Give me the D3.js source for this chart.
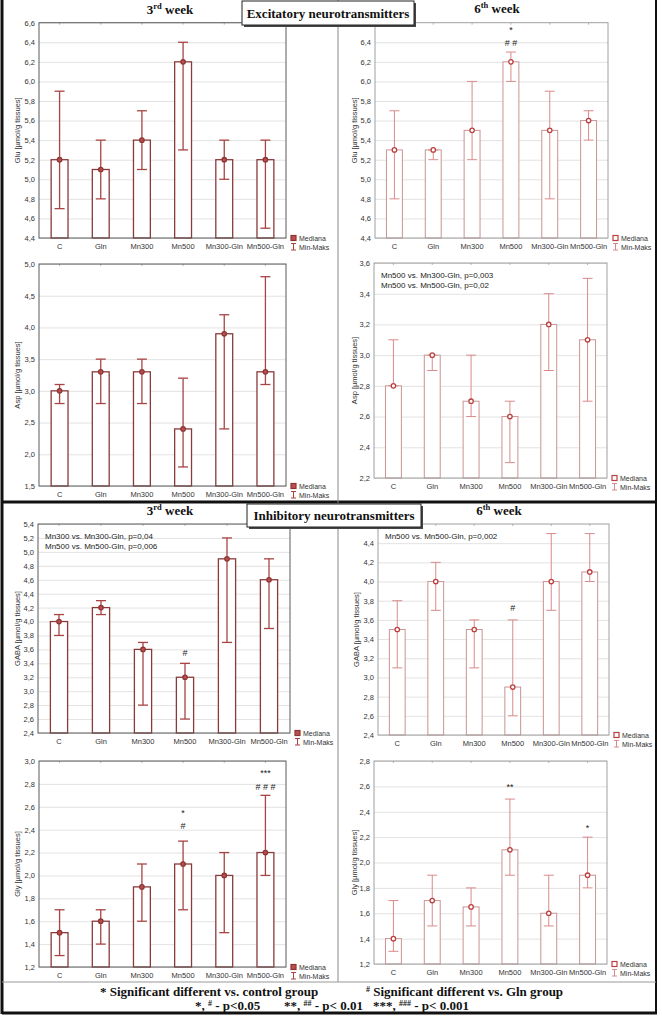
<!DOCTYPE html>
<html>
<head>
<meta charset="utf-8">
<script src="https://cdn.jsdelivr.net/npm/d3@7"></script>
<style>
  body { margin: 0; background: #fff; }
  svg { display: block; }
  .tick text { font-family: "Liberation Sans", Arial, sans-serif; font-size: 7.5px; fill: #333; }
</style>
</head>
<body>
<svg id="chart" width="662" height="1016"></svg>
<script>
// groups on the x axis
const groups = ["C", "Gln", "Mn300", "Mn500", "Mn300-Gln", "Mn500-Gln"]

// Glu [umol/g tissues]
const gluW3Median = [5.2, 5.1, 5.4, 6.2, 5.2, 5.2]
const gluW3Min    = [4.7, 4.8, 5.1, 5.3, 5.0, 4.5]
const gluW3Max    = [5.9, 5.4, 5.7, 6.4, 5.4, 5.4]
const gluW6Median = [5.3, 5.3, 5.5, 6.2, 5.5, 5.6]
const gluW6Min    = [4.8, 5.2, 5.2, 6.0, 4.8, 5.4]
const gluW6Max    = [5.7, 5.3, 6.0, 6.3, 5.9, 5.7]

// Asp
const aspW3Median = [3.0, 3.3, 3.3, 2.4, 3.9, 3.3]
const aspW3Min    = [2.8, 2.8, 2.8, 1.8, 2.4, 3.1]
const aspW3Max    = [3.1, 3.5, 3.5, 3.2, 4.2, 4.8]
const aspW6Median = [2.8, 3.0, 2.7, 2.6, 3.2, 3.1]
const aspW6Min    = [2.8, 2.9, 2.6, 2.3, 2.9, 2.7]
const aspW6Max    = [3.1, 3.0, 3.0, 2.7, 3.4, 3.5]

// GABA
const gabaW3Median = [4.0, 4.2, 3.6, 3.2, 4.9, 4.6]
const gabaW3Min    = [3.8, 4.1, 2.8, 2.6, 3.7, 3.9]
const gabaW3Max    = [4.1, 4.3, 3.7, 3.4, 5.2, 4.9]
const gabaW6Median = [3.5, 4.0, 3.5, 2.9, 4.0, 4.1]
const gabaW6Min    = [3.1, 3.7, 3.1, 2.6, 3.7, 4.0]
const gabaW6Max    = [3.8, 4.2, 3.6, 3.6, 4.5, 4.5]

// Gly
const glyW3Median = [1.5, 1.6, 1.9, 2.1, 2.0, 2.2]
const glyW3Min    = [1.3, 1.4, 1.6, 1.7, 1.5, 2.0]
const glyW3Max    = [1.7, 1.7, 2.1, 2.3, 2.2, 2.7]
const glyW6Median = [1.4, 1.7, 1.65, 2.1, 1.6, 1.9]
const glyW6Min    = [1.3, 1.5, 1.5, 1.9, 1.5, 1.8]
const glyW6Max    = [1.7, 1.9, 1.8, 2.5, 1.9, 2.2]

// y tick labels
const gluTicksW3  = [4.4, 4.6, 4.8, 5.0, 5.2, 5.4, 5.6, 5.8, 6.0, 6.2, 6.4, 6.6]
const gluTicksW6  = [4.4, 4.6, 4.8, 5.0, 5.2, 5.4, 5.6, 5.8, 6.0, 6.2, 6.4]
const aspTicksW3  = [1.5, 2.0, 2.5, 3.0, 3.5, 4.0, 4.5, 5.0]
const aspTicksW6  = [2.2, 2.4, 2.6, 2.8, 3.0, 3.2, 3.4, 3.6]
const gabaTicksW3 = [2.4, 2.6, 2.8, 3.0, 3.2, 3.4, 3.6, 3.8, 4.0, 4.2, 4.4, 4.6, 4.8, 5.0, 5.2, 5.4]
const gabaTicksW6 = [2.4, 2.6, 2.8, 3.0, 3.2, 3.4, 3.6, 3.8, 4.0, 4.2, 4.4]
const glyTicksW3  = [1.2, 1.4, 1.6, 1.8, 2.0, 2.2, 2.4, 2.6, 2.8, 3.0]
const glyTicksW6  = [1.2, 1.4, 1.6, 1.8, 2.0, 2.2, 2.4, 2.6, 2.8]

// significance marks: [group, value, text]
const gluW6Marks  = [["Mn500", 6.525, "*"], ["Mn500", 6.39, "# #"]]
const gabaW3Marks = [["Mn500", 3.55, "#"]]
const gabaW6Marks = [["Mn500", 3.72, "#"]]
const glyW3Marks  = [["Mn500", 2.55, "*"], ["Mn500", 2.43, "#"], ["Mn500-Gln", 2.895, "***"], ["Mn500-Gln", 2.77, "# # #"]]
const glyW6Marks  = [["Mn500", 2.595, "**"], ["Mn500-Gln", 2.27, "*"]]

// comparison notes
const aspW6Notes  = ["Mn500 vs. Mn300-Gln, p=0,003", "Mn500 vs. Mn500-Gln, p=0,02"]
const gabaW3Notes = ["Mn300 vs. Mn300-Gln, p=0,04", "Mn500 vs. Mn500-Gln, p=0,006"]
const gabaW6Notes = ["Mn500 vs. Mn500-Gln, p=0,002"]

const styles = {
    w3: { frame: "#5a5a5a", bar: "#8a3a3a", err: "#a84444", dot: "#8e3434", dotFill: "#b85050", barW: 1.3, errW: 1.3 },
    w6: { frame: "#a0a0a0", bar: "#c89494", err: "#d98a8a", dot: "#bb4040", dotFill: "#fff", barW: 1, errW: 1 }
}

const panels = [
    { box: [39, 286, 22.7, 238], domain: [4.4, 6.6], ticks: gluTicksW3, label: "Glu [µmol/g tissues]", lx: 17,
      median: gluW3Median, min: gluW3Min, max: gluW3Max, style: styles.w3, marks: [], notes: [] },
    { box: [375, 608, 22.7, 238], domain: [4.4, 6.6], ticks: gluTicksW6, label: "Glu [µmol/g tissues]", lx: 354,
      median: gluW6Median, min: gluW6Min, max: gluW6Max, style: styles.w6, marks: gluW6Marks, notes: [] },
    { box: [39, 286, 264, 486], domain: [1.5, 5.0], ticks: aspTicksW3, label: "Asp [µmol/g tissues]", lx: 17,
      median: aspW3Median, min: aspW3Min, max: aspW3Max, style: styles.w3, marks: [], notes: [] },
    { box: [374, 607, 263, 478], domain: [2.2, 3.6], ticks: aspTicksW6, label: "Asp [µmol/g tissues]", lx: 354,
      median: aspW6Median, min: aspW6Min, max: aspW6Max, style: styles.w6, marks: [], notes: aspW6Notes },
    { box: [38, 290, 524, 733], domain: [2.4, 5.4], ticks: gabaTicksW3, label: "GABA [µmol/g tissues]", lx: 17,
      median: gabaW3Median, min: gabaW3Min, max: gabaW3Max, style: styles.w3, marks: gabaW3Marks, notes: gabaW3Notes },
    { box: [378, 609, 524, 735], domain: [2.4, 4.6], ticks: gabaTicksW6, label: "GABA [µmol/g tissues]", lx: 356,
      median: gabaW6Median, min: gabaW6Min, max: gabaW6Max, style: styles.w6, marks: gabaW6Marks, notes: gabaW6Notes },
    { box: [39, 286, 761, 967], domain: [1.2, 3.0], ticks: glyTicksW3, label: "Gly [µmol/g tissues]", lx: 17,
      median: glyW3Median, min: glyW3Min, max: glyW3Max, style: styles.w3, marks: glyW3Marks, notes: [] },
    { box: [374, 607, 761, 964], domain: [1.2, 2.8], ticks: glyTicksW6, label: "Gly [µmol/g tissues]", lx: 354,
      median: glyW6Median, min: glyW6Min, max: glyW6Max, style: styles.w6, marks: glyW6Marks, notes: [] }
]

const fmt = d3.formatLocale({ decimal: ",", thousands: ".", grouping: [3], currency: ["", ""] }).format(".1f")
const sans = "'Liberation Sans', Arial, sans-serif"
const serif = "'Liberation Serif', 'Times New Roman', serif"

function drawPanel(svg, p) {
    const [x0, x1, y0, y1] = p.box
    const s = p.style
    const g = svg.append("g")

    const x = d3.scaleBand().domain(groups).range([x0, x1]).paddingInner(0.59).paddingOuter(0.295)
    const y = d3.scaleLinear().domain(p.domain).range([y1, y0])
    const cx = d => x(d) + x.bandwidth() / 2

    // grid
    g.append("g")
        .attr("transform", "translate(" + x0 + ",0)")
        .call(d3.axisLeft(y).tickValues(p.ticks).tickSize(-(x1 - x0)).tickFormat(""))
        .call(a => a.select(".domain").remove())
        .selectAll("line").attr("stroke", "#e2e2e2")

    // y labels
    g.append("g")
        .attr("transform", "translate(" + x0 + ",0)")
        .call(d3.axisLeft(y).tickValues(p.ticks).tickSize(0).tickPadding(4).tickFormat(fmt))
        .call(a => a.select(".domain").remove())

    // x labels
    g.append("g")
        .attr("transform", "translate(0," + y1 + ")")
        .call(d3.axisBottom(x).tickSize(0).tickPadding(6))
        .call(a => a.select(".domain").remove())

    // top ticks
    g.selectAll(".topTick").data(groups).join("line")
        .attr("x1", cx).attr("x2", cx).attr("y1", y0).attr("y2", y0 + 2)
        .attr("stroke", "#888").attr("stroke-width", 0.6)

    const rows = groups.map((d, i) => ({ g: d, med: p.median[i], lo: p.min[i], hi: p.max[i] }))

    g.selectAll(".bar").data(rows).join("rect")
        .attr("x", d => x(d.g))
        .attr("width", x.bandwidth())
        .attr("y", d => y(d.med))
        .attr("height", d => y(p.domain[0]) - y(d.med))
        .attr("fill", "#fff")
        .attr("stroke", s.bar)
        .attr("stroke-width", s.barW)

    // frame
    g.append("rect")
        .attr("x", x0).attr("y", y0).attr("width", x1 - x0).attr("height", y1 - y0)
        .attr("fill", "none").attr("stroke", s.frame).attr("stroke-width", 1)

    const err = g.selectAll(".err").data(rows).join("g").attr("stroke", s.err).attr("stroke-width", s.errW)
    err.append("line")
        .attr("x1", d => cx(d.g)).attr("x2", d => cx(d.g))
        .attr("y1", d => y(d.lo)).attr("y2", d => y(d.hi))
    err.append("line")
        .attr("x1", d => cx(d.g) - 5).attr("x2", d => cx(d.g) + 5)
        .attr("y1", d => y(d.lo)).attr("y2", d => y(d.lo))
    err.append("line")
        .attr("x1", d => cx(d.g) - 5).attr("x2", d => cx(d.g) + 5)
        .attr("y1", d => y(d.hi)).attr("y2", d => y(d.hi))

    g.selectAll(".med").data(rows).join("circle")
        .attr("cx", d => cx(d.g)).attr("cy", d => y(d.med)).attr("r", 2.2)
        .attr("fill", s.dotFill).attr("stroke", s.dot).attr("stroke-width", 1.3)

    // significance marks
    g.selectAll(".mark").data(p.marks).join("text")
        .attr("x", d => cx(d[0])).attr("y", d => y(d[1]))
        .attr("text-anchor", "middle").attr("dominant-baseline", "central")
        .attr("font-family", sans).attr("font-size", 9).attr("fill", "#222")
        .text(d => d[2])

    // notes
    g.selectAll(".note").data(p.notes).join("text")
        .attr("x", x0 + 7).attr("y", (d, i) => y0 + 15 + i * 9.5)
        .attr("font-family", sans).attr("font-size", 8).attr("fill", "#222")
        .text(d => d)

    // y title
    g.append("text")
        .attr("transform", "translate(" + p.lx + "," + (y0 + y1) / 2 + ") rotate(-90)")
        .attr("text-anchor", "middle").attr("dominant-baseline", "central")
        .attr("font-family", sans).attr("font-size", 7.5).attr("fill", "#333")
        .text(p.label)

    // legend
    const lg = g.append("g").attr("transform", "translate(" + (x1 + 5) + "," + y1 + ")")
    lg.append("rect").attr("x", 0).attr("y", -2.5).attr("width", 5).attr("height", 5)
        .attr("fill", s.dotFill).attr("stroke", s.dot).attr("stroke-width", 1.2)
    lg.append("text").attr("x", 8).attr("y", 0).attr("dominant-baseline", "central")
        .attr("font-family", sans).attr("font-size", 7).attr("fill", "#333").text("Mediana")
    const eg = lg.append("g").attr("stroke", s.err).attr("stroke-width", 1)
    eg.append("line").attr("x1", 2.5).attr("x2", 2.5).attr("y1", 5.5).attr("y2", 12)
    eg.append("line").attr("x1", 0).attr("x2", 5).attr("y1", 5.5).attr("y2", 5.5)
    eg.append("line").attr("x1", 0).attr("x2", 5).attr("y1", 12).attr("y2", 12)
    lg.append("text").attr("x", 8).attr("y", 9).attr("dominant-baseline", "central")
        .attr("font-family", sans).attr("font-size", 7).attr("fill", "#333").text("Min-Maks")
}

function weekTitle(svg, cx, yb, num, sup) {
    const t = svg.append("text").attr("x", cx).attr("y", yb).attr("text-anchor", "middle")
        .attr("font-family", serif).attr("font-weight", "bold").attr("font-size", 13).attr("fill", "#111")
    t.append("tspan").text(num)
    t.append("tspan").attr("dy", -5).attr("font-size", 8.5).text(sup)
    t.append("tspan").attr("dy", 5).text(" week")
}

function titleBox(svg, x0, x1, y0, y1, label) {
    svg.append("rect").attr("x", x0 + 2).attr("y", y0 + 2).attr("width", x1 - x0).attr("height", y1 - y0).attr("fill", "#444")
    svg.append("rect").attr("x", x0).attr("y", y0).attr("width", x1 - x0).attr("height", y1 - y0)
        .attr("fill", "#fff").attr("stroke", "#222").attr("stroke-width", 1)
    svg.append("text").attr("x", (x0 + x1) / 2).attr("y", (y0 + y1) / 2 + 4.5).attr("text-anchor", "middle")
        .attr("font-family", serif).attr("font-weight", "bold").attr("font-size", 13).attr("fill", "#111")
        .text(label)
}

const svg = d3.select("#chart")

// frame lines
svg.append("line").attr("x1", 2).attr("x2", 2).attr("y1", 0).attr("y2", 1014).attr("stroke", "#111").attr("stroke-width", 3)
svg.append("line").attr("x1", 656).attr("x2", 656).attr("y1", 0).attr("y2", 1014).attr("stroke", "#111").attr("stroke-width", 2)
svg.append("line").attr("x1", 2).attr("x2", 657).attr("y1", 502).attr("y2", 502).attr("stroke", "#111").attr("stroke-width", 3)
svg.append("line").attr("x1", 2).attr("x2", 657).attr("y1", 1013).attr("y2", 1013).attr("stroke", "#111").attr("stroke-width", 3)
svg.append("line").attr("x1", 338).attr("x2", 338).attr("y1", 0).attr("y2", 502).attr("stroke", "#888").attr("stroke-width", 1)
svg.append("line").attr("x1", 338).attr("x2", 338).attr("y1", 502).attr("y2", 982).attr("stroke", "#888").attr("stroke-width", 1)
svg.append("line").attr("x1", 2).attr("x2", 656).attr("y1", 982).attr("y2", 982).attr("stroke", "#999").attr("stroke-width", 1)

panels.forEach(p => drawPanel(svg, p))

weekTitle(svg, 170, 14, "3", "rd")
weekTitle(svg, 497, 13, "6", "th")
weekTitle(svg, 170, 515, "3", "rd")
weekTitle(svg, 499, 515, "6", "th")

titleBox(svg, 242, 414, 1, 25, "Excitatory neurotransmitters")
titleBox(svg, 247, 421, 504, 527, "Inhibitory neurotransmitters")

// footnote
const foot = svg.append("g").attr("font-family", serif).attr("font-weight", "bold").attr("font-size", 13).attr("fill", "#111")
foot.append("text").attr("x", 100).attr("y", 996).text("* Significant different vs. control group")
const f2 = foot.append("text").attr("x", 366).attr("y", 996)
f2.append("tspan").attr("font-size", 8).attr("dy", -4).text("#")
f2.append("tspan").attr("dy", 4).text(" Significant different vs. Gln group")

function pLine(x, stars, hashes, rest) {
    const t = foot.append("text").attr("x", x).attr("y", 1010)
    t.append("tspan").text(stars + ", ")
    t.append("tspan").attr("font-size", 8).attr("dy", -4).text(hashes)
    t.append("tspan").attr("dy", 4).text(" - " + rest)
}
pLine(195, "*", "#", "p<0.05")
pLine(284, "**", "##", "p< 0.01")
pLine(373, "***", "###", "p< 0.001")
</script>
</body>
</html>
